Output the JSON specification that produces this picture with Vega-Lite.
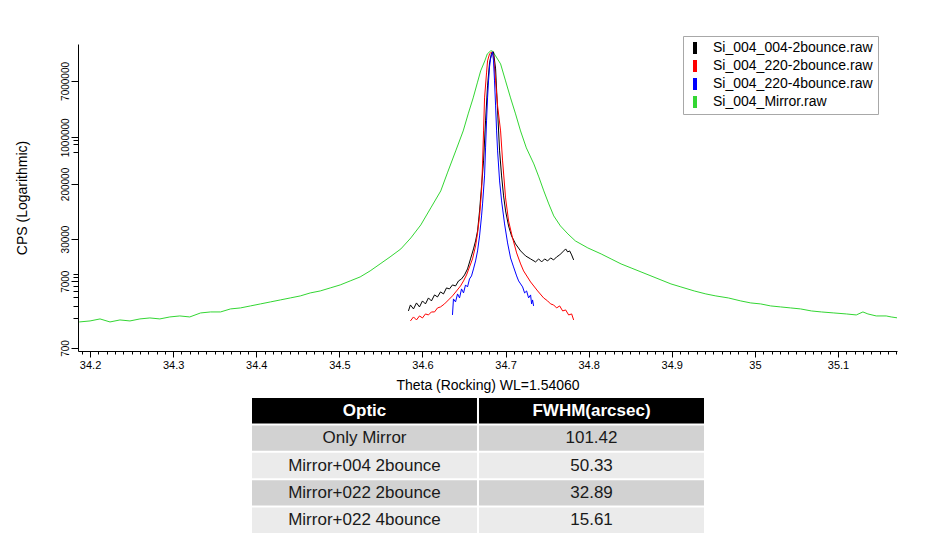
{
  "$schema": "https://vega.github.io/schema/vega-lite/v6.json",
  "background": "white",
  "padding": {"left": 15, "top": 35, "right": 5, "bottom": 0},
  "spacing": 6,
  "config": {"view": {"stroke": null}, "font": "Liberation Sans"},
  "datasets": {
    "curves": [
      {"file":"Si_004_Mirror.raw","theta":34.187,"cps":1716},{"file":"Si_004_Mirror.raw","theta":34.2,"cps":1776},{"file":"Si_004_Mirror.raw","theta":34.212,"cps":1904},{"file":"Si_004_Mirror.raw","theta":34.224,"cps":1716},{"file":"Si_004_Mirror.raw","theta":34.236,"cps":1839},{"file":"Si_004_Mirror.raw","theta":34.248,"cps":1776},{"file":"Si_004_Mirror.raw","theta":34.26,"cps":1904},{"file":"Si_004_Mirror.raw","theta":34.272,"cps":1970},{"file":"Si_004_Mirror.raw","theta":34.284,"cps":1904},{"file":"Si_004_Mirror.raw","theta":34.296,"cps":2039},{"file":"Si_004_Mirror.raw","theta":34.308,"cps":2111},{"file":"Si_004_Mirror.raw","theta":34.32,"cps":2039},{"file":"Si_004_Mirror.raw","theta":34.333,"cps":2341},{"file":"Si_004_Mirror.raw","theta":34.345,"cps":2423},{"file":"Si_004_Mirror.raw","theta":34.357,"cps":2423},{"file":"Si_004_Mirror.raw","theta":34.369,"cps":2688},{"file":"Si_004_Mirror.raw","theta":34.381,"cps":2783},{"file":"Si_004_Mirror.raw","theta":34.393,"cps":2981},{"file":"Si_004_Mirror.raw","theta":34.405,"cps":3194},{"file":"Si_004_Mirror.raw","theta":34.417,"cps":3422},{"file":"Si_004_Mirror.raw","theta":34.429,"cps":3667},{"file":"Si_004_Mirror.raw","theta":34.441,"cps":3929},{"file":"Si_004_Mirror.raw","theta":34.453,"cps":4209},{"file":"Si_004_Mirror.raw","theta":34.465,"cps":4669},{"file":"Si_004_Mirror.raw","theta":34.477,"cps":5000},{"file":"Si_004_Mirror.raw","theta":34.489,"cps":5546},{"file":"Si_004_Mirror.raw","theta":34.501,"cps":6151},{"file":"Si_004_Mirror.raw","theta":34.513,"cps":7061},{"file":"Si_004_Mirror.raw","theta":34.525,"cps":8106},{"file":"Si_004_Mirror.raw","theta":34.537,"cps":9970},{"file":"Si_004_Mirror.raw","theta":34.549,"cps":12691},{"file":"Si_004_Mirror.raw","theta":34.561,"cps":16160},{"file":"Si_004_Mirror.raw","theta":34.574,"cps":21290},{"file":"Si_004_Mirror.raw","theta":34.586,"cps":31120},{"file":"Si_004_Mirror.raw","theta":34.598,"cps":48740},{"file":"Si_004_Mirror.raw","theta":34.61,"cps":87600},{"file":"Si_004_Mirror.raw","theta":34.622,"cps":157500},{"file":"Si_004_Mirror.raw","theta":34.63,"cps":293000},{"file":"Si_004_Mirror.raw","theta":34.64,"cps":625800},{"file":"Si_004_Mirror.raw","theta":34.649,"cps":1247000},{"file":"Si_004_Mirror.raw","theta":34.655,"cps":2242000},{"file":"Si_004_Mirror.raw","theta":34.661,"cps":3894000},{"file":"Si_004_Mirror.raw","theta":34.666,"cps":6534000},{"file":"Si_004_Mirror.raw","theta":34.67,"cps":9883000},{"file":"Si_004_Mirror.raw","theta":34.675,"cps":13950000},{"file":"Si_004_Mirror.raw","theta":34.678,"cps":17760000},{"file":"Si_004_Mirror.raw","theta":34.682,"cps":19710000},{"file":"Si_004_Mirror.raw","theta":34.684,"cps":19710000},{"file":"Si_004_Mirror.raw","theta":34.688,"cps":16580000},{"file":"Si_004_Mirror.raw","theta":34.694,"cps":12580000},{"file":"Si_004_Mirror.raw","theta":34.7,"cps":7000000},{"file":"Si_004_Mirror.raw","theta":34.706,"cps":3894000},{"file":"Si_004_Mirror.raw","theta":34.712,"cps":2242000},{"file":"Si_004_Mirror.raw","theta":34.718,"cps":1247000},{"file":"Si_004_Mirror.raw","theta":34.725,"cps":694000},{"file":"Si_004_Mirror.raw","theta":34.734,"cps":399700},{"file":"Si_004_Mirror.raw","theta":34.74,"cps":255300},{"file":"Si_004_Mirror.raw","theta":34.746,"cps":157500},{"file":"Si_004_Mirror.raw","theta":34.752,"cps":100550},{"file":"Si_004_Mirror.raw","theta":34.758,"cps":66450},{"file":"Si_004_Mirror.raw","theta":34.766,"cps":47080},{"file":"Si_004_Mirror.raw","theta":34.775,"cps":35730},{"file":"Si_004_Mirror.raw","theta":34.784,"cps":28060},{"file":"Si_004_Mirror.raw","theta":34.799,"cps":22040},{"file":"Si_004_Mirror.raw","theta":34.815,"cps":17920},{"file":"Si_004_Mirror.raw","theta":34.827,"cps":15081},{"file":"Si_004_Mirror.raw","theta":34.839,"cps":12691},{"file":"Si_004_Mirror.raw","theta":34.851,"cps":11055},{"file":"Si_004_Mirror.raw","theta":34.863,"cps":9632},{"file":"Si_004_Mirror.raw","theta":34.875,"cps":8391},{"file":"Si_004_Mirror.raw","theta":34.887,"cps":7309},{"file":"Si_004_Mirror.raw","theta":34.899,"cps":6367},{"file":"Si_004_Mirror.raw","theta":34.911,"cps":5741},{"file":"Si_004_Mirror.raw","theta":34.927,"cps":5000},{"file":"Si_004_Mirror.raw","theta":34.941,"cps":4510},{"file":"Si_004_Mirror.raw","theta":34.953,"cps":4209},{"file":"Si_004_Mirror.raw","theta":34.968,"cps":3929},{"file":"Si_004_Mirror.raw","theta":34.983,"cps":3542},{"file":"Si_004_Mirror.raw","theta":34.995,"cps":3307},{"file":"Si_004_Mirror.raw","theta":35.007,"cps":3194},{"file":"Si_004_Mirror.raw","theta":35.019,"cps":2981},{"file":"Si_004_Mirror.raw","theta":35.031,"cps":2880},{"file":"Si_004_Mirror.raw","theta":35.043,"cps":2783},{"file":"Si_004_Mirror.raw","theta":35.055,"cps":2688},{"file":"Si_004_Mirror.raw","theta":35.068,"cps":2508},{"file":"Si_004_Mirror.raw","theta":35.08,"cps":2423},{"file":"Si_004_Mirror.raw","theta":35.095,"cps":2341},{"file":"Si_004_Mirror.raw","theta":35.11,"cps":2262},{"file":"Si_004_Mirror.raw","theta":35.122,"cps":2185},{"file":"Si_004_Mirror.raw","theta":35.13,"cps":2423},{"file":"Si_004_Mirror.raw","theta":35.136,"cps":2262},{"file":"Si_004_Mirror.raw","theta":35.146,"cps":2111},{"file":"Si_004_Mirror.raw","theta":35.158,"cps":2111},{"file":"Si_004_Mirror.raw","theta":35.164,"cps":2039},{"file":"Si_004_Mirror.raw","theta":35.172,"cps":1970},
      {"file":"Si_004_004-2bounce.raw","theta":34.5831,"cps":2508},{"file":"Si_004_004-2bounce.raw","theta":34.5855,"cps":3085},{"file":"Si_004_004-2bounce.raw","theta":34.5892,"cps":2688},{"file":"Si_004_004-2bounce.raw","theta":34.5928,"cps":3307},{"file":"Si_004_004-2bounce.raw","theta":34.5964,"cps":2880},{"file":"Si_004_004-2bounce.raw","theta":34.6,"cps":3542},{"file":"Si_004_004-2bounce.raw","theta":34.6036,"cps":3194},{"file":"Si_004_004-2bounce.raw","theta":34.6072,"cps":3929},{"file":"Si_004_004-2bounce.raw","theta":34.6108,"cps":3542},{"file":"Si_004_004-2bounce.raw","theta":34.6145,"cps":4357},{"file":"Si_004_004-2bounce.raw","theta":34.6181,"cps":4066},{"file":"Si_004_004-2bounce.raw","theta":34.6217,"cps":4832},{"file":"Si_004_004-2bounce.raw","theta":34.6253,"cps":4510},{"file":"Si_004_004-2bounce.raw","theta":34.6289,"cps":5546},{"file":"Si_004_004-2bounce.raw","theta":34.6325,"cps":5358},{"file":"Si_004_004-2bounce.raw","theta":34.6361,"cps":6151},{"file":"Si_004_004-2bounce.raw","theta":34.6398,"cps":5941},{"file":"Si_004_004-2bounce.raw","theta":34.6434,"cps":7061},{"file":"Si_004_004-2bounce.raw","theta":34.647,"cps":7567},{"file":"Si_004_004-2bounce.raw","theta":34.6506,"cps":8686},{"file":"Si_004_004-2bounce.raw","theta":34.6542,"cps":10683},{"file":"Si_004_004-2bounce.raw","theta":34.6578,"cps":15081},{"file":"Si_004_004-2bounce.raw","theta":34.6614,"cps":21290},{"file":"Si_004_004-2bounce.raw","theta":34.6639,"cps":28060},{"file":"Si_004_004-2bounce.raw","theta":34.6663,"cps":39620},{"file":"Si_004_004-2bounce.raw","theta":34.6687,"cps":79000},{"file":"Si_004_004-2bounce.raw","theta":34.6711,"cps":187100},{"file":"Si_004_004-2bounce.raw","theta":34.6735,"cps":443300},{"file":"Si_004_004-2bounce.raw","theta":34.6759,"cps":1762000},{"file":"Si_004_004-2bounce.raw","theta":34.6783,"cps":5892000},{"file":"Si_004_004-2bounce.raw","theta":34.6807,"cps":13020000},{"file":"Si_004_004-2bounce.raw","theta":34.6831,"cps":18390000},{"file":"Si_004_004-2bounce.raw","theta":34.6855,"cps":19040000},{"file":"Si_004_004-2bounce.raw","theta":34.688,"cps":10590000},{"file":"Si_004_004-2bounce.raw","theta":34.6904,"cps":2487000},{"file":"Si_004_004-2bounce.raw","theta":34.6928,"cps":625800},{"file":"Si_004_004-2bounce.raw","theta":34.6952,"cps":264100},{"file":"Si_004_004-2bounce.raw","theta":34.6976,"cps":132600},{"file":"Si_004_004-2bounce.raw","theta":34.7,"cps":79000},{"file":"Si_004_004-2bounce.raw","theta":34.7036,"cps":47080},{"file":"Si_004_004-2bounce.raw","theta":34.7072,"cps":33340},{"file":"Si_004_004-2bounce.raw","theta":34.712,"cps":25310},{"file":"Si_004_004-2bounce.raw","theta":34.7181,"cps":19880},{"file":"Si_004_004-2bounce.raw","theta":34.7241,"cps":16730},{"file":"Si_004_004-2bounce.raw","theta":34.7301,"cps":15081},{"file":"Si_004_004-2bounce.raw","theta":34.7361,"cps":13600},{"file":"Si_004_004-2bounce.raw","theta":34.7398,"cps":15081},{"file":"Si_004_004-2bounce.raw","theta":34.7434,"cps":13600},{"file":"Si_004_004-2bounce.raw","theta":34.747,"cps":15081},{"file":"Si_004_004-2bounce.raw","theta":34.7506,"cps":14080},{"file":"Si_004_004-2bounce.raw","theta":34.7542,"cps":15610},{"file":"Si_004_004-2bounce.raw","theta":34.7578,"cps":14570},{"file":"Si_004_004-2bounce.raw","theta":34.7614,"cps":16160},{"file":"Si_004_004-2bounce.raw","theta":34.7651,"cps":17310},{"file":"Si_004_004-2bounce.raw","theta":34.7687,"cps":19200},{"file":"Si_004_004-2bounce.raw","theta":34.7723,"cps":21290},{"file":"Si_004_004-2bounce.raw","theta":34.7747,"cps":19200},{"file":"Si_004_004-2bounce.raw","theta":34.7771,"cps":19880},{"file":"Si_004_004-2bounce.raw","theta":34.7795,"cps":17310},{"file":"Si_004_004-2bounce.raw","theta":34.7819,"cps":14570},
      {"file":"Si_004_220-2bounce.raw","theta":34.5855,"cps":1776},{"file":"Si_004_220-2bounce.raw","theta":34.5892,"cps":2039},{"file":"Si_004_220-2bounce.raw","theta":34.5928,"cps":1839},{"file":"Si_004_220-2bounce.raw","theta":34.5964,"cps":2111},{"file":"Si_004_220-2bounce.raw","theta":34.6,"cps":1970},{"file":"Si_004_220-2bounce.raw","theta":34.6036,"cps":2262},{"file":"Si_004_220-2bounce.raw","theta":34.6072,"cps":2185},{"file":"Si_004_220-2bounce.raw","theta":34.6108,"cps":2423},{"file":"Si_004_220-2bounce.raw","theta":34.6145,"cps":2423},{"file":"Si_004_220-2bounce.raw","theta":34.6181,"cps":2783},{"file":"Si_004_220-2bounce.raw","theta":34.6217,"cps":2880},{"file":"Si_004_220-2bounce.raw","theta":34.6265,"cps":3194},{"file":"Si_004_220-2bounce.raw","theta":34.6313,"cps":3667},{"file":"Si_004_220-2bounce.raw","theta":34.6361,"cps":4209},{"file":"Si_004_220-2bounce.raw","theta":34.641,"cps":5000},{"file":"Si_004_220-2bounce.raw","theta":34.6458,"cps":5941},{"file":"Si_004_220-2bounce.raw","theta":34.6494,"cps":7061},{"file":"Si_004_220-2bounce.raw","theta":34.653,"cps":8686},{"file":"Si_004_220-2bounce.raw","theta":34.6566,"cps":11448},{"file":"Si_004_220-2bounce.raw","theta":34.6602,"cps":15081},{"file":"Si_004_220-2bounce.raw","theta":34.6639,"cps":23620},{"file":"Si_004_220-2bounce.raw","theta":34.6663,"cps":36980},{"file":"Si_004_220-2bounce.raw","theta":34.6687,"cps":66450},{"file":"Si_004_220-2bounce.raw","theta":34.6711,"cps":157500},{"file":"Si_004_220-2bounce.raw","theta":34.6723,"cps":399700},{"file":"Si_004_220-2bounce.raw","theta":34.6735,"cps":1247000},{"file":"Si_004_220-2bounce.raw","theta":34.6747,"cps":3894000},{"file":"Si_004_220-2bounce.raw","theta":34.6771,"cps":9224000},{"file":"Si_004_220-2bounce.raw","theta":34.6783,"cps":13950000},{"file":"Si_004_220-2bounce.raw","theta":34.6807,"cps":17760000},{"file":"Si_004_220-2bounce.raw","theta":34.6831,"cps":19040000},{"file":"Si_004_220-2bounce.raw","theta":34.6855,"cps":16580000},{"file":"Si_004_220-2bounce.raw","theta":34.688,"cps":7000000},{"file":"Si_004_220-2bounce.raw","theta":34.6904,"cps":2955000},{"file":"Si_004_220-2bounce.raw","theta":34.694,"cps":1247000},{"file":"Si_004_220-2bounce.raw","theta":34.6964,"cps":443300},{"file":"Si_004_220-2bounce.raw","theta":34.7,"cps":123700},{"file":"Si_004_220-2bounce.raw","theta":34.7036,"cps":55930},{"file":"Si_004_220-2bounce.raw","theta":34.7084,"cps":31120},{"file":"Si_004_220-2bounce.raw","theta":34.7133,"cps":18550},{"file":"Si_004_220-2bounce.raw","theta":34.7181,"cps":12691},{"file":"Si_004_220-2bounce.raw","theta":34.7217,"cps":9970},{"file":"Si_004_220-2bounce.raw","theta":34.7301,"cps":6823},{"file":"Si_004_220-2bounce.raw","theta":34.7386,"cps":5000},{"file":"Si_004_220-2bounce.raw","theta":34.7458,"cps":3929},{"file":"Si_004_220-2bounce.raw","theta":34.7506,"cps":3542},{"file":"Si_004_220-2bounce.raw","theta":34.7542,"cps":3194},{"file":"Si_004_220-2bounce.raw","theta":34.7578,"cps":3085},{"file":"Si_004_220-2bounce.raw","theta":34.7614,"cps":2783},{"file":"Si_004_220-2bounce.raw","theta":34.7651,"cps":2981},{"file":"Si_004_220-2bounce.raw","theta":34.7687,"cps":2508},{"file":"Si_004_220-2bounce.raw","theta":34.7723,"cps":2596},{"file":"Si_004_220-2bounce.raw","theta":34.7759,"cps":2185},{"file":"Si_004_220-2bounce.raw","theta":34.7795,"cps":2262},{"file":"Si_004_220-2bounce.raw","theta":34.7819,"cps":1839},
      {"file":"Si_004_220-4bounce.raw","theta":34.6361,"cps":2185},{"file":"Si_004_220-4bounce.raw","theta":34.6373,"cps":3796},{"file":"Si_004_220-4bounce.raw","theta":34.6398,"cps":3422},{"file":"Si_004_220-4bounce.raw","theta":34.6422,"cps":4510},{"file":"Si_004_220-4bounce.raw","theta":34.6446,"cps":3929},{"file":"Si_004_220-4bounce.raw","theta":34.647,"cps":5358},{"file":"Si_004_220-4bounce.raw","theta":34.6494,"cps":4669},{"file":"Si_004_220-4bounce.raw","theta":34.6518,"cps":6151},{"file":"Si_004_220-4bounce.raw","theta":34.6542,"cps":5741},{"file":"Si_004_220-4bounce.raw","theta":34.6566,"cps":7567},{"file":"Si_004_220-4bounce.raw","theta":34.659,"cps":8391},{"file":"Si_004_220-4bounce.raw","theta":34.6614,"cps":10683},{"file":"Si_004_220-4bounce.raw","theta":34.6639,"cps":14080},{"file":"Si_004_220-4bounce.raw","theta":34.6663,"cps":19880},{"file":"Si_004_220-4bounce.raw","theta":34.6687,"cps":33340},{"file":"Si_004_220-4bounce.raw","theta":34.6711,"cps":66450},{"file":"Si_004_220-4bounce.raw","theta":34.6723,"cps":100550},{"file":"Si_004_220-4bounce.raw","theta":34.6747,"cps":264100},{"file":"Si_004_220-4bounce.raw","theta":34.6759,"cps":694000},{"file":"Si_004_220-4bounce.raw","theta":34.6771,"cps":1762000},{"file":"Si_004_220-4bounce.raw","theta":34.6783,"cps":3894000},{"file":"Si_004_220-4bounce.raw","theta":34.6795,"cps":7000000},{"file":"Si_004_220-4bounce.raw","theta":34.6807,"cps":11340000},{"file":"Si_004_220-4bounce.raw","theta":34.6819,"cps":14950000},{"file":"Si_004_220-4bounce.raw","theta":34.6843,"cps":19040000},{"file":"Si_004_220-4bounce.raw","theta":34.6855,"cps":13950000},{"file":"Si_004_220-4bounce.raw","theta":34.6867,"cps":7000000},{"file":"Si_004_220-4bounce.raw","theta":34.688,"cps":2955000},{"file":"Si_004_220-4bounce.raw","theta":34.6892,"cps":1247000},{"file":"Si_004_220-4bounce.raw","theta":34.6904,"cps":625800},{"file":"Si_004_220-4bounce.raw","theta":34.6928,"cps":222300},{"file":"Si_004_220-4bounce.raw","theta":34.6952,"cps":111500},{"file":"Si_004_220-4bounce.raw","theta":34.6988,"cps":50450},{"file":"Si_004_220-4bounce.raw","theta":34.7024,"cps":26190},{"file":"Si_004_220-4bounce.raw","theta":34.706,"cps":15610},{"file":"Si_004_220-4bounce.raw","theta":34.7096,"cps":11448},{"file":"Si_004_220-4bounce.raw","theta":34.7133,"cps":8391},{"file":"Si_004_220-4bounce.raw","theta":34.7157,"cps":7061},{"file":"Si_004_220-4bounce.raw","theta":34.7181,"cps":6367},{"file":"Si_004_220-4bounce.raw","theta":34.7205,"cps":5741},{"file":"Si_004_220-4bounce.raw","theta":34.7229,"cps":4669},{"file":"Si_004_220-4bounce.raw","theta":34.7253,"cps":5000},{"file":"Si_004_220-4bounce.raw","theta":34.7277,"cps":3929},{"file":"Si_004_220-4bounce.raw","theta":34.7301,"cps":4357},{"file":"Si_004_220-4bounce.raw","theta":34.7313,"cps":3194},{"file":"Si_004_220-4bounce.raw","theta":34.7325,"cps":3667},{"file":"Si_004_220-4bounce.raw","theta":34.7337,"cps":2981}
    ],
    "table": [
      {"row":0,"col":"Optic","label":"Optic"},{"row":0,"col":"FWHM","label":"FWHM(arcsec)"},
      {"row":1,"col":"Optic","label":"Only Mirror"},{"row":1,"col":"FWHM","label":"101.42"},
      {"row":2,"col":"Optic","label":"Mirror+004 2bounce"},{"row":2,"col":"FWHM","label":"50.33"},
      {"row":3,"col":"Optic","label":"Mirror+022 2bounce"},{"row":3,"col":"FWHM","label":"32.89"},
      {"row":4,"col":"Optic","label":"Mirror+022 4bounce"},{"row":4,"col":"FWHM","label":"15.61"}
    ]
  },
  "vconcat": [
    {
      "width": 819,
      "height": 307,
      "data": {"name": "curves"},
      "layer": [
        {
          "transform": [{"filter": "datum.file === 'Si_004_Mirror.raw'"}],
          "mark": {"type": "line", "strokeWidth": 1, "clip": true},
          "encoding": {
            "x": {"field": "theta", "type": "quantitative",
              "scale": {"domain": [34.1855, 35.171], "nice": false, "zero": false},
              "axis": {"orient": "bottom", "values": [34.2,34.3,34.4,34.5,34.6,34.7,34.8,34.9,35.0,35.1], "format": "~g", "grid": false,
                "tickSize": 6, "tickColor": "black", "domainColor": "black", "labelColor": "black", "labelFontSize": 11, "labelPadding": 2, "labelFlush": false,
                "title": "Theta (Rocking) WL=1.54060", "titleFontSize": 14, "titleFontWeight": "normal", "titleColor": "black", "titlePadding": 8}},
            "y": {"field": "cps", "type": "quantitative",
              "scale": {"type": "log", "domain": [630, 25000000], "nice": false},
              "axis": {"orient": "left", "values": [700, 7000, 30000, 200000, 1000000, 7000000], "format": "d", "grid": false,
                "labelAngle": 270, "labelAlign": "center", "labelBaseline": "bottom", "labelFontSize": 10, "labelColor": "black", "labelOverlap": false, "labelFlush": false,
                "tickSize": 7, "tickColor": "black", "domainColor": "black", "labelPadding": 1,
                "title": "CPS (Logarithmic)", "titleFontSize": 14, "titleFontWeight": "normal", "titleColor": "black", "titlePadding": 31}},
            "color": {"field": "file", "type": "nominal",
              "scale": {"domain": ["Si_004_004-2bounce.raw", "Si_004_220-2bounce.raw", "Si_004_220-4bounce.raw", "Si_004_Mirror.raw"], "range": ["#000000", "#ff0000", "#0000ff", "#33d633"]},
              "legend": {"title": null, "orient": "none", "legendX": 605, "legendY": -8, "labelFontSize": 14, "labelColor": "black", "labelLimit": 300,
                "symbolType": "M0,-2V2", "symbolSize": 36, "symbolStrokeWidth": 4, "labelOffset": 11, "rowPadding": 4, "padding": 5, "clipHeight": 14,
                "strokeColor": "#a8a8a8", "fillColor": "white",
                "encode": {"symbols": {"update": {"strokeWidth": {"value": 4}}}}}}
          }
        },
        {
          "transform": [{"filter": "datum.file !== 'Si_004_Mirror.raw'"}],
          "mark": {"type": "line", "strokeWidth": 1, "clip": true},
          "encoding": {
            "x": {"field": "theta", "type": "quantitative",
              "axis": {"orient": "bottom", "values": [34.19,34.2,34.21,34.22,34.23,34.24,34.25,34.26,34.27,34.28,34.29,34.3,34.31,34.32,34.33,34.34,34.35,34.36,34.37,34.38,34.39,34.4,34.41,34.42,34.43,34.44,34.45,34.46,34.47,34.48,34.49,34.5,34.51,34.52,34.53,34.54,34.55,34.56,34.57,34.58,34.59,34.6,34.61,34.62,34.63,34.64,34.65,34.66,34.67,34.68,34.69,34.7,34.71,34.72,34.73,34.74,34.75,34.76,34.77,34.78,34.79,34.8,34.81,34.82,34.83,34.84,34.85,34.86,34.87,34.88,34.89,34.9,34.91,34.92,34.93,34.94,34.95,34.96,34.97,34.98,34.99,35.0,35.01,35.02,35.03,35.04,35.05,35.06,35.07,35.08,35.09,35.1,35.11,35.12,35.13,35.14,35.15,35.16,35.17],
                "labels": false, "domain": false, "grid": false, "tickSize": 3, "tickColor": "black", "title": null}},
            "y": {"field": "cps", "type": "quantitative",
              "axis": {"orient": "left", "values": [2000, 3000, 4000, 5000, 6000, 8000, 9000, 600000, 800000, 900000],
                "labels": false, "domain": false, "grid": false, "tickSize": 5, "tickColor": "black", "title": null}},
            "color": {"field": "file", "type": "nominal"}
          }
        }
      ],
      "resolve": {"axis": {"x": "independent", "y": "independent"}}
    },
    {
      "width": 819,
      "height": 135,
      "data": {"name": "table"},
      "encoding": {
        "x": {"field": "col", "type": "nominal", "scale": {"domain": ["Optic", "FWHM"], "range": [174, 626], "paddingInner": 0.009, "paddingOuter": 0}, "axis": null},
        "y": {"field": "row", "type": "ordinal", "scale": {"paddingInner": 0.07, "paddingOuter": 0}, "axis": null}
      },
      "layer": [
        {"mark": {"type": "rect"},
         "encoding": {"fill": {"field": "row", "type": "ordinal", "scale": {"domain": [0, 1, 2, 3, 4], "range": ["#000000", "#d2d2d2", "#ebebeb", "#d2d2d2", "#ebebeb"]}, "legend": null}}},
        {"transform": [{"filter": "datum.row === 0"}],
         "mark": {"type": "text", "fontSize": 17, "fontWeight": "bold", "color": "white"},
         "encoding": {"text": {"field": "label"}}},
        {"transform": [{"filter": "datum.row > 0"}],
         "mark": {"type": "text", "fontSize": 17, "color": "#1a1a1a"},
         "encoding": {"text": {"field": "label"}}}
      ]
    }
  ]
}
